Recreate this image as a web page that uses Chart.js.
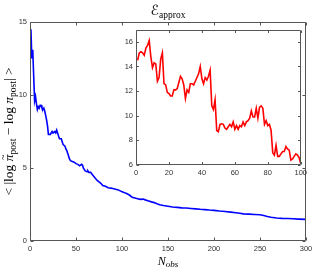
<!DOCTYPE html>
<html>
<head>
<meta charset="utf-8">
<script src="https://cdn.jsdelivr.net/npm/chart.js@4"></script>
<style>
  body { margin: 0; background: #fff; }
  #wrap { position: relative; width: 316px; height: 269px; }
  #main { position: absolute; left: 0; top: 0; }
  #inset { position: absolute; left: 110px; top: 22px; }
</style>
</head>
<body>
<div id="wrap">
  <canvas id="main" width="316" height="269"></canvas>
  <canvas id="inset" width="200" height="160"></canvas>
</div>
<script>
// main curve (blue) at irregular N
const blueN = [1, 2, 3, 4, 5, 6, 7, 8, 9, 10, 11, 12, 13, 14, 15, 16, 17, 18, 19, 20,
  22, 24, 25, 27, 28, 29, 30, 31, 32, 34, 35, 36, 38, 39, 40, 41, 42, 43, 44, 46,
  48, 50, 52, 54, 56, 57, 58, 60, 62, 63, 64, 66, 67, 69, 71, 73, 75, 77, 79, 82,
  85, 88, 90, 93, 96, 99, 102, 105, 108, 111, 114, 117, 120, 123, 126, 129, 132, 135, 138, 141,
  145, 150, 155, 160, 165, 170, 175, 180, 185, 190, 195, 200, 206, 212, 218, 224, 228, 232, 238, 244,
  250, 254, 258, 262, 268, 274, 280, 286, 292, 300];
const blueVals = [14.5, 12.5, 13.1, 11.3, 9.6, 9.9, 9.4, 9.0, 9.2, 9.1, 9.3, 9.3, 9.1, 9.0, 9.1, 8.9, 8.6, 8.3, 7.9, 7.3,
  7.3, 7.5, 7.4, 7.5, 7.4, 7.6, 7.4, 7.2, 7.0, 7.0, 6.8, 6.6, 6.5, 6.3, 6.2, 6.0, 5.8, 5.6, 5.5, 5.45,
  5.4, 5.3, 5.25, 5.15, 5.25, 5.2, 5.0, 4.8, 4.75, 4.8, 4.7, 4.7, 4.6, 4.45, 4.3, 4.15, 4.05, 3.95, 3.8, 3.75,
  3.65, 3.62, 3.6, 3.55, 3.5, 3.4, 3.33, 3.25, 3.15, 3.0, 2.95, 2.9, 2.85, 2.87, 2.8, 2.74, 2.68, 2.63, 2.55, 2.48,
  2.43, 2.38, 2.33, 2.3, 2.27, 2.26, 2.23, 2.2, 2.17, 2.15, 2.12, 2.1, 2.05, 2.02, 1.98, 1.94, 1.9, 1.86, 1.84, 1.82,
  1.8, 1.75, 1.68, 1.63, 1.58, 1.55, 1.54, 1.52, 1.5, 1.48];

// inset curve (red), N = 1..100
const redVals = [14.5, 15.1, 15.2, 15.1, 14.9, 15.5, 15.7, 16.1, 14.8, 13.9,
  14.3, 14.2, 12.8, 13.1, 14.6, 15.1, 12.6, 12.5, 11.9, 11.8,
  11.6, 11.6, 12.1, 12.1, 12.2, 12.7, 13.2, 13.0, 12.5, 11.4,
  12.1, 11.9, 12.6, 12.6, 12.5, 12.8, 13.1, 13.4, 14.0, 13.0,
  12.6, 13.1, 12.9, 13.2, 13.7, 10.8, 10.5, 11.3, 8.8, 8.7,
  9.3, 9.35, 9.3, 9.0, 8.9, 9.1, 9.3, 9.1, 9.5, 8.9,
  9.2, 8.9, 9.2, 9.1, 9.5, 9.2, 9.5, 9.6, 9.8, 10.4,
  9.9, 9.9, 10.6, 9.8, 10.7, 10.8, 10.6, 9.3, 9.6, 9.2,
  9.3, 8.8, 7.0, 6.8, 7.6, 6.7, 6.7, 6.9, 7.1, 7.1,
  7.5, 7.3, 7.2, 6.4, 6.5, 6.7, 6.9, 6.8, 6.6, 6.1];

const mainXTicks = [0, 50, 100, 150, 200, 250, 300];
const mainYTicks = [0, 5, 10, 15];
const insetXTicks = [0, 20, 40, 60, 80, 100];
const insetYTicks = [6, 8, 10, 12, 14, 16];

const tickFont = { family: 'Liberation Sans, Arial, sans-serif', size: 7.5 };
const tickColor = '#333';

// matlab style box with inward ticks on all four sides
const boxTicks = {
  id: 'boxTicks',
  afterDatasetsDraw(chart, args, opts) {
    const { ctx, chartArea: a, scales: { x, y } } = chart;
    const L = opts.len;
    const l = Math.round(a.left) + 0.5, r = Math.round(a.right) - 0.5;
    const t = Math.round(a.top) + 0.5, b = Math.round(a.bottom) - 0.5;
    ctx.save();
    ctx.strokeStyle = opts.color;
    ctx.lineWidth = 1;
    ctx.beginPath();
    x.ticks.forEach(tk => {
      const px = Math.round(x.getPixelForValue(tk.value)) + 0.5;
      ctx.moveTo(px, b); ctx.lineTo(px, b - L);
      ctx.moveTo(px, t); ctx.lineTo(px, t + L);
    });
    y.ticks.forEach(tk => {
      const py = Math.round(y.getPixelForValue(tk.value)) + 0.5;
      ctx.moveTo(l, py); ctx.lineTo(l + L, py);
      ctx.moveTo(r, py); ctx.lineTo(r - L, py);
    });
    ctx.rect(l, t, r - l, b - t);
    ctx.stroke();
    ctx.restore();
  }
};

// draw text pieces (with subscripts) one after another, centred on x
function drawPieces(ctx, pieces, x, y) {
  let w = 0;
  pieces.forEach(p => { ctx.font = p.font; w += ctx.measureText(p.text).width; });
  let cx = x - w / 2;
  pieces.forEach(p => {
    ctx.font = p.font;
    const pw = ctx.measureText(p.text).width;
    ctx.fillText(p.text, cx, y + (p.dy || 0));
    if (p.tilde) {
      ctx.font = p.tilde;
      const tw = ctx.measureText('~').width;
      ctx.fillText('~', cx + (pw - tw) / 2 + 0.5, y - 7);
    }
    cx += pw;
  });
}

const labels = {
  id: 'labels',
  afterDraw(chart) {
    const { ctx, chartArea: a } = chart;
    const cx = (a.left + a.right) / 2;
    const serif = '"Liberation Serif", "DejaVu Serif", serif';
    ctx.save();
    ctx.fillStyle = '#000';
    ctx.textBaseline = 'alphabetic';
    ctx.textAlign = 'left';
    // title
    drawPieces(ctx, [
      { text: '\u2130', font: 'italic 14px "DejaVu Serif", "DejaVu Sans", serif' },
      { text: 'approx', font: '9.5px ' + serif, dy: 2.5 }
    ], cx, 15);
    // x label
    drawPieces(ctx, [
      { text: 'N', font: 'italic 12px ' + serif },
      { text: 'obs', font: 'italic 9px ' + serif, dy: 2 }
    ], cx, 265);
    // y label
    ctx.translate(13, (a.top + a.bottom) / 2);
    ctx.rotate(-Math.PI / 2);
    const f = '13.5px ' + serif, fs = '9.5px ' + serif, fi = 'italic 13.5px ' + serif;
    drawPieces(ctx, [
      { text: '< |log ', font: f },
      { text: '\u03C0', font: fi, tilde: '10px ' + serif },
      { text: 'post', font: fs, dy: 3 },
      { text: ' \u2212 log ', font: f },
      { text: '\u03C0', font: fi },
      { text: 'post', font: fs, dy: 3 },
      { text: '| >', font: f }
    ], 0, 0);
    ctx.restore();
  }
};

function axis(ticksArr, min, max, size, pad, isX) {
  return {
    type: 'linear',
    min: min,
    max: max,
    grid: { display: false, drawTicks: false },
    border: { display: false },
    afterBuildTicks: s => { s.ticks = ticksArr.map(v => ({ value: v })); },
    afterFit: s => { if (isX) s.height = size; else s.width = size; },
    ticks: { font: tickFont, color: tickColor, padding: pad, maxRotation: 0, autoSkip: false }
  };
}

new Chart(document.getElementById('main'), {
  type: 'line',
  data: {
    datasets: [{
      data: blueN.map((n, i) => ({ x: n, y: blueVals[i] })),
      borderColor: '#0000ff',
      borderWidth: 1.6,
      pointRadius: 0,
      tension: 0
    }]
  },
  options: {
    responsive: false,
    animation: false,
    devicePixelRatio: 1,
    layout: { padding: { left: 0, right: 10, top: 22, bottom: 0 } },
    scales: {
      x: axis(mainXTicks, 0, 300, 28, 3, true),
      y: axis(mainYTicks, 0, 15, 30, 3, false)
    },
    plugins: {
      legend: { display: false },
      tooltip: { enabled: false },
      boxTicks: { len: 3, color: '#555' }
    }
  },
  plugins: [boxTicks, labels]
});

new Chart(document.getElementById('inset'), {
  type: 'line',
  data: {
    datasets: [{
      data: redVals.map((v, i) => ({ x: i + 1, y: v })),
      borderColor: '#ff0000',
      borderWidth: 1.6,
      pointRadius: 0,
      tension: 0
    }]
  },
  options: {
    responsive: false,
    animation: false,
    devicePixelRatio: 1,
    layout: { padding: { left: 0, right: 9, top: 7, bottom: 0 } },
    scales: {
      x: axis(insetXTicks, 0, 100, 17, 3, true),
      y: axis(insetYTicks, 6, 17, 26, 3, false)
    },
    plugins: {
      legend: { display: false },
      tooltip: { enabled: false },
      boxTicks: { len: 2.5, color: '#555' }
    }
  },
  plugins: [boxTicks]
});
</script>
</body>
</html>
